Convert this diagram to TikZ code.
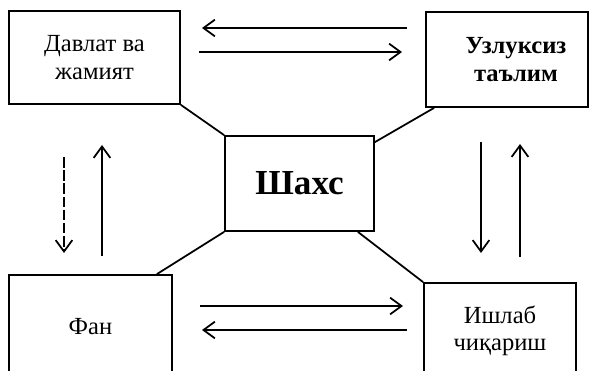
\documentclass[tikz,border=0pt]{standalone}
\usepackage{fontspec}
\setmainfont{Liberation Serif}
\usetikzlibrary{arrows.meta,calc}

\begin{document}
\begin{tikzpicture}[every node/.style={rectangle, inner sep=0pt}, text centered, line width=1pt,
	box/.style={draw, align=center, font=\fontsize{14}{15.5}\selectfont},
	arr/.style={-{Straight Barb[length=6.5pt, width=9.5pt, line width=1pt]}}]
	\useasboundingbox (0,0) rectangle (11.86,-7.42);
	\node[box, minimum width=3.42cm, minimum height=1.86cm] (state) at (1.89,-1.15) {Давлат ва\\жамият};
	\node[box, minimum width=3.24cm, minimum height=1.90cm] (school) at (10.14,-1.19) {};
	\node[font=\fontsize{14}{15.5}\selectfont\bfseries, align=center] (schoolText) at (10.32,-1.19) {Узлуксиз\\таълим};
	\node[box, minimum width=2.98cm, minimum height=1.90cm, font=\fontsize{20}{22}\selectfont\bfseries] (person) at (5.99,-3.67) {Шахс};
	\node[box, minimum width=3.26cm, minimum height=2.06cm] (science) at (1.81,-6.53) {Фан};
	\node[box, minimum width=3.04cm, minimum height=1.90cm] (work) at (10.00,-6.61) {Ишлаб\\чиқариш};
	% links to the centre
	\draw (state.south east) -- (person.north west);
	\draw ($(school.south west)+(0.18,0)$) -- ($(person.north east)+(0,-0.14)$);
	\draw ($(science.north east)+(-0.32,0)$) -- (person.south west);
	\draw ($(person.south east)+(-0.34,0)$) -- (work.north west);
	% arrow ends
	\coordinate (topA) at (8.14,-0.56);
	\coordinate (topB) at (4.04,-0.56);
	\coordinate (topC) at (3.98,-1.04);
	\coordinate (topD) at (8.04,-1.04);
	\coordinate (leftA) at (1.28,-3.14);
	\coordinate (leftB) at (1.28,-5.06);
	\coordinate (leftC) at (2.04,-5.12);
	\coordinate (leftD) at (2.04,-2.90);
	\coordinate (rightA) at (9.62,-2.84);
	\coordinate (rightB) at (9.62,-5.06);
	\coordinate (rightC) at (10.40,-5.14);
	\coordinate (rightD) at (10.40,-2.88);
	\coordinate (botA) at (4.00,-6.12);
	\coordinate (botB) at (8.06,-6.12);
	\coordinate (botC) at (8.14,-6.60);
	\coordinate (botD) at (4.04,-6.60);
	\draw[arr] (topA) -- (topB);
	\draw[arr] (topC) -- (topD);
	\draw[arr, line width=.7pt, dash pattern=on 6pt off 1.5pt] (leftA) -- (leftB);
	\draw[arr] (leftC) -- (leftD);
	\draw[arr] (rightA) -- (rightB);
	\draw[arr] (rightC) -- (rightD);
	\draw[arr] (botA) -- (botB);
	\draw[arr] (botC) -- (botD);
\end{tikzpicture}
\end{document}
